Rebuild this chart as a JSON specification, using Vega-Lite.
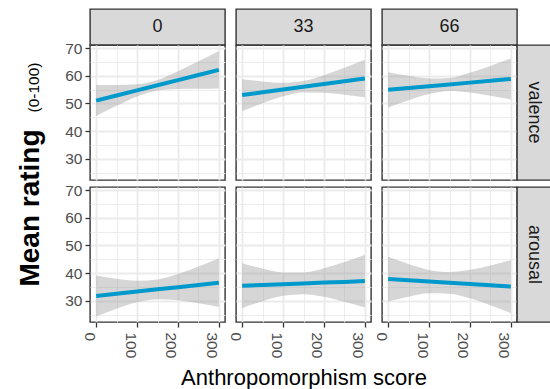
{
  "$schema": "https://vega.github.io/schema/vega-lite/v6.json",
  "background": "white",
  "padding": {"left": 15, "top": 8, "right": 0, "bottom": 0},
  "datasets": {
    "fits": [
      {"cond": "0", "measure": "valence", "score": 0, "fit": 51.0, "lo": 45.4, "hi": 56.6},
      {"cond": "0", "measure": "valence", "score": 50, "fit": 52.85, "lo": 49.1, "hi": 56.6},
      {"cond": "0", "measure": "valence", "score": 100, "fit": 54.7, "lo": 52.5, "hi": 56.9},
      {"cond": "0", "measure": "valence", "score": 150, "fit": 56.55, "lo": 54.65, "hi": 58.45},
      {"cond": "0", "measure": "valence", "score": 200, "fit": 58.4, "lo": 55.2, "hi": 61.6},
      {"cond": "0", "measure": "valence", "score": 250, "fit": 60.25, "lo": 55.3, "hi": 65.2},
      {"cond": "0", "measure": "valence", "score": 300, "fit": 62.1, "lo": 55.4, "hi": 68.9},
      {"cond": "33", "measure": "valence", "score": 0, "fit": 53.0, "lo": 47.25, "hi": 58.75},
      {"cond": "33", "measure": "valence", "score": 50, "fit": 54.0, "lo": 50.05, "hi": 57.95},
      {"cond": "33", "measure": "valence", "score": 100, "fit": 55.0, "lo": 52.55, "hi": 57.45},
      {"cond": "33", "measure": "valence", "score": 150, "fit": 56.0, "lo": 53.9, "hi": 58.1},
      {"cond": "33", "measure": "valence", "score": 200, "fit": 57.0, "lo": 53.8, "hi": 60.2},
      {"cond": "33", "measure": "valence", "score": 250, "fit": 58.0, "lo": 53.1, "hi": 62.9},
      {"cond": "33", "measure": "valence", "score": 300, "fit": 59.0, "lo": 52.25, "hi": 65.75},
      {"cond": "66", "measure": "valence", "score": 0, "fit": 54.9, "lo": 48.55, "hi": 61.25},
      {"cond": "66", "measure": "valence", "score": 50, "fit": 55.55, "lo": 51.15, "hi": 59.95},
      {"cond": "66", "measure": "valence", "score": 100, "fit": 56.2, "lo": 53.4, "hi": 59.0},
      {"cond": "66", "measure": "valence", "score": 150, "fit": 56.85, "lo": 54.5, "hi": 59.2},
      {"cond": "66", "measure": "valence", "score": 200, "fit": 57.5, "lo": 53.95, "hi": 61.05},
      {"cond": "66", "measure": "valence", "score": 250, "fit": 58.15, "lo": 52.75, "hi": 63.55},
      {"cond": "66", "measure": "valence", "score": 300, "fit": 58.8, "lo": 51.4, "hi": 66.2},
      {"cond": "0", "measure": "arousal", "score": 0, "fit": 31.7, "lo": 24.25, "hi": 39.15},
      {"cond": "0", "measure": "arousal", "score": 50, "fit": 32.5, "lo": 27.1, "hi": 37.9},
      {"cond": "0", "measure": "arousal", "score": 100, "fit": 33.3, "lo": 29.4, "hi": 37.2},
      {"cond": "0", "measure": "arousal", "score": 150, "fit": 34.1, "lo": 30.5, "hi": 37.7},
      {"cond": "0", "measure": "arousal", "score": 200, "fit": 34.9, "lo": 30.15, "hi": 39.65},
      {"cond": "0", "measure": "arousal", "score": 250, "fit": 35.7, "lo": 29.05, "hi": 42.35},
      {"cond": "0", "measure": "arousal", "score": 300, "fit": 36.5, "lo": 27.7, "hi": 45.3},
      {"cond": "33", "measure": "arousal", "score": 0, "fit": 35.4, "lo": 27.3, "hi": 43.5},
      {"cond": "33", "measure": "arousal", "score": 50, "fit": 35.7, "lo": 29.8, "hi": 41.6},
      {"cond": "33", "measure": "arousal", "score": 100, "fit": 35.95, "lo": 31.75, "hi": 40.2},
      {"cond": "33", "measure": "arousal", "score": 150, "fit": 36.25, "lo": 32.35, "hi": 40.15},
      {"cond": "33", "measure": "arousal", "score": 200, "fit": 36.55, "lo": 31.4, "hi": 41.7},
      {"cond": "33", "measure": "arousal", "score": 250, "fit": 36.8, "lo": 29.6, "hi": 44.0},
      {"cond": "33", "measure": "arousal", "score": 300, "fit": 37.1, "lo": 27.55, "hi": 46.65},
      {"cond": "66", "measure": "arousal", "score": 0, "fit": 37.8, "lo": 29.7, "hi": 45.9},
      {"cond": "66", "measure": "arousal", "score": 50, "fit": 37.35, "lo": 31.45, "hi": 43.25},
      {"cond": "66", "measure": "arousal", "score": 100, "fit": 36.9, "lo": 32.7, "hi": 41.1},
      {"cond": "66", "measure": "arousal", "score": 150, "fit": 36.45, "lo": 32.55, "hi": 40.35},
      {"cond": "66", "measure": "arousal", "score": 200, "fit": 36.0, "lo": 30.85, "hi": 41.15},
      {"cond": "66", "measure": "arousal", "score": 250, "fit": 35.55, "lo": 28.35, "hi": 42.75},
      {"cond": "66", "measure": "arousal", "score": 300, "fit": 35.1, "lo": 25.5, "hi": 44.7}
    ]
  },
  "columns": 6,
  "spacing": {"row": 0, "column": 0},
  "bounds": "flush",
  "align": "each",
  "concat": [
    {"width": 135, "height": 36, "view": {"fill": "#D9D9D9", "stroke": "#333333", "strokeWidth": 1.4},
     "data": {"values": [{"label": "0"}]},
     "mark": {"type": "text", "fontSize": 18, "color": "#1A1A1A", "font": "Liberation Sans"},
     "encoding": {"text": {"field": "label"}}},
    {"width": 11, "height": 1, "view": {"stroke": null}, "data": {"values": []}, "mark": "point", "encoding": {}},
    {"width": 135, "height": 36, "view": {"fill": "#D9D9D9", "stroke": "#333333", "strokeWidth": 1.4},
     "data": {"values": [{"label": "33"}]},
     "mark": {"type": "text", "fontSize": 18, "color": "#1A1A1A", "font": "Liberation Sans"},
     "encoding": {"text": {"field": "label"}}},
    {"width": 11, "height": 1, "view": {"stroke": null}, "data": {"values": []}, "mark": "point", "encoding": {}},
    {"width": 135, "height": 36, "view": {"fill": "#D9D9D9", "stroke": "#333333", "strokeWidth": 1.4},
     "data": {"values": [{"label": "66"}]},
     "mark": {"type": "text", "fontSize": 18, "color": "#1A1A1A", "font": "Liberation Sans"},
     "encoding": {"text": {"field": "label"}}},
    {"width": 1, "height": 1, "view": {"stroke": null}, "data": {"values": []}, "mark": "point", "encoding": {}},

    {"width": 135, "height": 135, "data": {"name": "fits"},
     "transform": [{"filter": "datum.cond === '0' && datum.measure === 'valence'"}],
     "encoding": {
       "x": {"field": "score", "type": "quantitative", "scale": {"domain": [-15, 315], "nice": false, "zero": false},
             "axis": {"values": [0, 50, 100, 150, 200, 250, 300], "labels": false, "ticks": false, "title": null,
                      "gridWidth": {"condition": {"test": "datum.value % 100 === 0", "value": 1.8}, "value": 0.9}}}
     },
     "layer": [
       {"mark": {"type": "area", "color": "#999999", "opacity": 0.4, "interpolate": "monotone"},
        "encoding": {
          "y": {"field": "lo", "type": "quantitative", "scale": {"domain": [22.3, 71.1], "nice": false, "zero": false},
                "axis": {"values": [25, 30, 35, 40, 45, 50, 55, 60, 65, 70], "labelExpr": "datum.value % 10 === 0 ? datum.label : ''",
                         "tickOpacity": {"condition": {"test": "datum.value % 10 === 0", "value": 1}, "value": 0},
                         "gridWidth": {"condition": {"test": "datum.value % 10 === 0", "value": 1.8}, "value": 0.9},
                         "labelPadding": 3, "title": "(0-100)", "titleAngle": 270, "titleX": -52, "titleY": 42,
                         "titleAlign": "center", "titleBaseline": "alphabetic", "titleFontSize": 15.5, "titleFontWeight": "normal"}},
          "y2": {"field": "hi"}}},
       {"mark": {"type": "line", "color": "#0099CC", "strokeWidth": 4},
        "encoding": {
          "y": {"field": "fit", "type": "quantitative", "scale": {"domain": [22.3, 71.1], "nice": false, "zero": false},
                "axis": {"values": [25, 30, 35, 40, 45, 50, 55, 60, 65, 70], "labelExpr": "datum.value % 10 === 0 ? datum.label : ''",
                         "tickOpacity": {"condition": {"test": "datum.value % 10 === 0", "value": 1}, "value": 0},
                         "gridWidth": {"condition": {"test": "datum.value % 10 === 0", "value": 1.8}, "value": 0.9},
                         "labelPadding": 3, "title": "(0-100)", "titleAngle": 270, "titleX": -52, "titleY": 42,
                         "titleAlign": "center", "titleBaseline": "alphabetic", "titleFontSize": 15.5, "titleFontWeight": "normal"}}}}
     ]},
    {"width": 11, "height": 1, "view": {"stroke": null}, "data": {"values": []}, "mark": "point", "encoding": {}},
    {"width": 135, "height": 135, "data": {"name": "fits"},
     "transform": [{"filter": "datum.cond === '33' && datum.measure === 'valence'"}],
     "encoding": {
       "x": {"field": "score", "type": "quantitative", "scale": {"domain": [-15, 315], "nice": false, "zero": false},
             "axis": {"values": [0, 50, 100, 150, 200, 250, 300], "labels": false, "ticks": false, "title": null,
                      "gridWidth": {"condition": {"test": "datum.value % 100 === 0", "value": 1.8}, "value": 0.9}}}
     },
     "layer": [
       {"mark": {"type": "area", "color": "#999999", "opacity": 0.4, "interpolate": "monotone"},
        "encoding": {
          "y": {"field": "lo", "type": "quantitative", "scale": {"domain": [22.3, 71.1], "nice": false, "zero": false},
                "axis": {"values": [25, 30, 35, 40, 45, 50, 55, 60, 65, 70], "labels": false, "ticks": false, "title": null,
                         "gridWidth": {"condition": {"test": "datum.value % 10 === 0", "value": 1.8}, "value": 0.9}}},
          "y2": {"field": "hi"}}},
       {"mark": {"type": "line", "color": "#0099CC", "strokeWidth": 4},
        "encoding": {
          "y": {"field": "fit", "type": "quantitative", "scale": {"domain": [22.3, 71.1], "nice": false, "zero": false},
                "axis": {"values": [25, 30, 35, 40, 45, 50, 55, 60, 65, 70], "labels": false, "ticks": false, "title": null,
                         "gridWidth": {"condition": {"test": "datum.value % 10 === 0", "value": 1.8}, "value": 0.9}}}}}
     ]},
    {"width": 11, "height": 1, "view": {"stroke": null}, "data": {"values": []}, "mark": "point", "encoding": {}},
    {"width": 135, "height": 135, "data": {"name": "fits"},
     "transform": [{"filter": "datum.cond === '66' && datum.measure === 'valence'"}],
     "encoding": {
       "x": {"field": "score", "type": "quantitative", "scale": {"domain": [-15, 315], "nice": false, "zero": false},
             "axis": {"values": [0, 50, 100, 150, 200, 250, 300], "labels": false, "ticks": false, "title": null,
                      "gridWidth": {"condition": {"test": "datum.value % 100 === 0", "value": 1.8}, "value": 0.9}}}
     },
     "layer": [
       {"mark": {"type": "area", "color": "#999999", "opacity": 0.4, "interpolate": "monotone"},
        "encoding": {
          "y": {"field": "lo", "type": "quantitative", "scale": {"domain": [22.3, 71.1], "nice": false, "zero": false},
                "axis": {"values": [25, 30, 35, 40, 45, 50, 55, 60, 65, 70], "labels": false, "ticks": false, "title": null,
                         "gridWidth": {"condition": {"test": "datum.value % 10 === 0", "value": 1.8}, "value": 0.9}}},
          "y2": {"field": "hi"}}},
       {"mark": {"type": "line", "color": "#0099CC", "strokeWidth": 4},
        "encoding": {
          "y": {"field": "fit", "type": "quantitative", "scale": {"domain": [22.3, 71.1], "nice": false, "zero": false},
                "axis": {"values": [25, 30, 35, 40, 45, 50, 55, 60, 65, 70], "labels": false, "ticks": false, "title": null,
                         "gridWidth": {"condition": {"test": "datum.value % 10 === 0", "value": 1.8}, "value": 0.9}}}}}
     ]},
    {"width": 34, "height": 135, "view": {"fill": "#D9D9D9", "stroke": "#333333", "strokeWidth": 1.4},
     "data": {"values": [{"label": "valence"}]},
     "mark": {"type": "text", "fontSize": 18, "color": "#1A1A1A", "font": "Liberation Sans", "angle": 90},
     "encoding": {"text": {"field": "label"}}},

    {"width": 1, "height": 7, "view": {"stroke": null}, "data": {"values": []}, "mark": "point", "encoding": {}},
    {"width": 1, "height": 7, "view": {"stroke": null}, "data": {"values": []}, "mark": "point", "encoding": {}},
    {"width": 1, "height": 7, "view": {"stroke": null}, "data": {"values": []}, "mark": "point", "encoding": {}},
    {"width": 1, "height": 7, "view": {"stroke": null}, "data": {"values": []}, "mark": "point", "encoding": {}},
    {"width": 1, "height": 7, "view": {"stroke": null}, "data": {"values": []}, "mark": "point", "encoding": {}},
    {"width": 1, "height": 7, "view": {"stroke": null}, "data": {"values": []}, "mark": "point", "encoding": {}},

    {"width": 135, "height": 135, "data": {"name": "fits"},
     "transform": [{"filter": "datum.cond === '0' && datum.measure === 'arousal'"}],
     "encoding": {
       "x": {"field": "score", "type": "quantitative", "scale": {"domain": [-15, 315], "nice": false, "zero": false},
             "axis": {"values": [0, 50, 100, 150, 200, 250, 300], "labelAngle": 90, "labelAlign": "left", "labelBaseline": "top",
                      "labelPadding": 5, "labelFlush": false, "labelOverlap": false,
                      "labelExpr": "datum.value % 100 === 0 ? datum.label : ''",
                      "tickOpacity": {"condition": {"test": "datum.value % 100 === 0", "value": 1}, "value": 0},
                      "title": null,
                      "gridWidth": {"condition": {"test": "datum.value % 100 === 0", "value": 1.8}, "value": 0.9}}}
     },
     "layer": [
       {"mark": {"type": "area", "color": "#999999", "opacity": 0.4, "interpolate": "monotone"},
        "encoding": {
          "y": {"field": "lo", "type": "quantitative", "scale": {"domain": [22.3, 71.1], "nice": false, "zero": false},
                "axis": {"values": [25, 30, 35, 40, 45, 50, 55, 60, 65, 70], "labelExpr": "datum.value % 10 === 0 ? datum.label : ''",
                         "tickOpacity": {"condition": {"test": "datum.value % 10 === 0", "value": 1}, "value": 0},
                         "gridWidth": {"condition": {"test": "datum.value % 10 === 0", "value": 1.8}, "value": 0.9},
                         "labelPadding": 3, "title": "Mean rating", "titleAngle": 270, "titleX": -52, "titleY": 20.5,
                         "titleAlign": "center", "titleBaseline": "alphabetic", "titleFontSize": 28, "titleFontWeight": "bold"}},
          "y2": {"field": "hi"}}},
       {"mark": {"type": "line", "color": "#0099CC", "strokeWidth": 4},
        "encoding": {
          "y": {"field": "fit", "type": "quantitative", "scale": {"domain": [22.3, 71.1], "nice": false, "zero": false},
                "axis": {"values": [25, 30, 35, 40, 45, 50, 55, 60, 65, 70], "labelExpr": "datum.value % 10 === 0 ? datum.label : ''",
                         "tickOpacity": {"condition": {"test": "datum.value % 10 === 0", "value": 1}, "value": 0},
                         "gridWidth": {"condition": {"test": "datum.value % 10 === 0", "value": 1.8}, "value": 0.9},
                         "labelPadding": 3, "title": "Mean rating", "titleAngle": 270, "titleX": -52, "titleY": 20.5,
                         "titleAlign": "center", "titleBaseline": "alphabetic", "titleFontSize": 28, "titleFontWeight": "bold"}}}}
     ]},
    {"width": 11, "height": 1, "view": {"stroke": null}, "data": {"values": []}, "mark": "point", "encoding": {}},
    {"width": 135, "height": 135, "data": {"name": "fits"},
     "transform": [{"filter": "datum.cond === '33' && datum.measure === 'arousal'"}],
     "encoding": {
       "x": {"field": "score", "type": "quantitative", "scale": {"domain": [-15, 315], "nice": false, "zero": false},
             "axis": {"values": [0, 50, 100, 150, 200, 250, 300], "labelAngle": 90, "labelAlign": "left", "labelBaseline": "top",
                      "labelPadding": 5, "labelFlush": false, "labelOverlap": false,
                      "labelExpr": "datum.value % 100 === 0 ? datum.label : ''",
                      "tickOpacity": {"condition": {"test": "datum.value % 100 === 0", "value": 1}, "value": 0},
                      "title": "Anthropomorphism score", "titleFontSize": 22, "titleFontWeight": "normal",
                      "titleY": 62, "titleBaseline": "alphabetic",
                      "gridWidth": {"condition": {"test": "datum.value % 100 === 0", "value": 1.8}, "value": 0.9}}}
     },
     "layer": [
       {"mark": {"type": "area", "color": "#999999", "opacity": 0.4, "interpolate": "monotone"},
        "encoding": {
          "y": {"field": "lo", "type": "quantitative", "scale": {"domain": [22.3, 71.1], "nice": false, "zero": false},
                "axis": {"values": [25, 30, 35, 40, 45, 50, 55, 60, 65, 70], "labels": false, "ticks": false, "title": null,
                         "gridWidth": {"condition": {"test": "datum.value % 10 === 0", "value": 1.8}, "value": 0.9}}},
          "y2": {"field": "hi"}}},
       {"mark": {"type": "line", "color": "#0099CC", "strokeWidth": 4},
        "encoding": {
          "y": {"field": "fit", "type": "quantitative", "scale": {"domain": [22.3, 71.1], "nice": false, "zero": false},
                "axis": {"values": [25, 30, 35, 40, 45, 50, 55, 60, 65, 70], "labels": false, "ticks": false, "title": null,
                         "gridWidth": {"condition": {"test": "datum.value % 10 === 0", "value": 1.8}, "value": 0.9}}}}}
     ]},
    {"width": 11, "height": 1, "view": {"stroke": null}, "data": {"values": []}, "mark": "point", "encoding": {}},
    {"width": 135, "height": 135, "data": {"name": "fits"},
     "transform": [{"filter": "datum.cond === '66' && datum.measure === 'arousal'"}],
     "encoding": {
       "x": {"field": "score", "type": "quantitative", "scale": {"domain": [-15, 315], "nice": false, "zero": false},
             "axis": {"values": [0, 50, 100, 150, 200, 250, 300], "labelAngle": 90, "labelAlign": "left", "labelBaseline": "top",
                      "labelPadding": 5, "labelFlush": false, "labelOverlap": false,
                      "labelExpr": "datum.value % 100 === 0 ? datum.label : ''",
                      "tickOpacity": {"condition": {"test": "datum.value % 100 === 0", "value": 1}, "value": 0},
                      "title": null,
                      "gridWidth": {"condition": {"test": "datum.value % 100 === 0", "value": 1.8}, "value": 0.9}}}
     },
     "layer": [
       {"mark": {"type": "area", "color": "#999999", "opacity": 0.4, "interpolate": "monotone"},
        "encoding": {
          "y": {"field": "lo", "type": "quantitative", "scale": {"domain": [22.3, 71.1], "nice": false, "zero": false},
                "axis": {"values": [25, 30, 35, 40, 45, 50, 55, 60, 65, 70], "labels": false, "ticks": false, "title": null,
                         "gridWidth": {"condition": {"test": "datum.value % 10 === 0", "value": 1.8}, "value": 0.9}}},
          "y2": {"field": "hi"}}},
       {"mark": {"type": "line", "color": "#0099CC", "strokeWidth": 4},
        "encoding": {
          "y": {"field": "fit", "type": "quantitative", "scale": {"domain": [22.3, 71.1], "nice": false, "zero": false},
                "axis": {"values": [25, 30, 35, 40, 45, 50, 55, 60, 65, 70], "labels": false, "ticks": false, "title": null,
                         "gridWidth": {"condition": {"test": "datum.value % 10 === 0", "value": 1.8}, "value": 0.9}}}}}
     ]},
    {"width": 34, "height": 135, "view": {"fill": "#D9D9D9", "stroke": "#333333", "strokeWidth": 1.4},
     "data": {"values": [{"label": "arousal"}]},
     "mark": {"type": "text", "fontSize": 18, "color": "#1A1A1A", "font": "Liberation Sans", "angle": 90},
     "encoding": {"text": {"field": "label"}}}
  ],
  "config": {
    "view": {"stroke": "#333333", "strokeWidth": 1.4},
    "axis": {"domain": false, "gridColor": "#EBEBEB", "tickColor": "#333333", "tickWidth": 1.3, "tickSize": 5,
             "labelColor": "#4D4D4D", "labelFont": "Liberation Sans", "labelFontSize": 15.5,
             "titleFont": "Liberation Sans", "titleColor": "#000000"},
    "text": {"font": "Liberation Sans"}
  }
}
